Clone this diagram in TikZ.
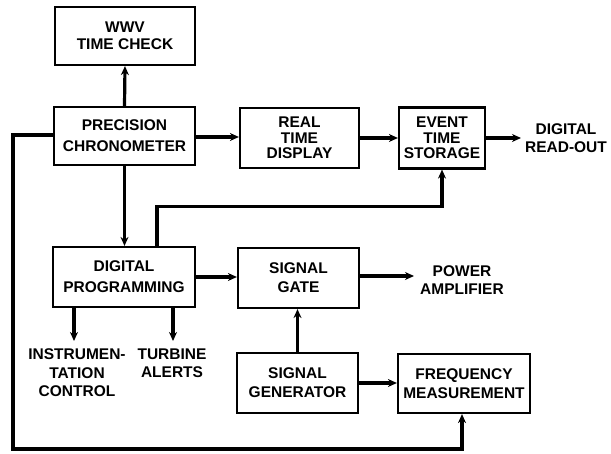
\documentclass[tikz,border=0pt]{standalone}
\usepackage{fontspec}
\setmainfont{Liberation Sans}
\usetikzlibrary{arrows.meta,calc}
\begin{document}
\begin{tikzpicture}[x=1pt,y=-1pt,
  box/.style={draw,line width=2.2pt,minimum width=#1,inner sep=0pt,align=center,
    font=\bfseries\fontsize{15.5}{15.5}\selectfont},
  lbl/.style={inner sep=0pt,align=center,font=\bfseries\fontsize{15.5}{18.5}\selectfont},
  conn/.style={line width=3.2pt,-{Stealth[length=9pt,width=8pt]}},
  wire/.style={line width=3.2pt}]
\useasboundingbox (0,0) rectangle (611,454);
\node[box=140pt,minimum height=58pt,font=\bfseries\fontsize{15.5}{17}\selectfont] (wwv) at (125,36) {WWV\\TIME CHECK};
\node[box=141pt,minimum height=58pt,font=\bfseries\fontsize{15.5}{21}\selectfont] (chrono) at (124.5,136) {PRECISION\\CHRONOMETER};
\node[box=119pt,minimum height=60pt] (rtd) at (299.5,138) {REAL\\TIME\\DISPLAY};
\node[box=86pt,minimum height=61pt] (ets) at (442,138) {EVENT\\TIME\\STORAGE};
\node[box=142pt,minimum height=60pt,font=\bfseries\fontsize{15.5}{21}\selectfont] (dp) at (124,277) {DIGITAL\\PROGRAMMING};
\node[box=121pt,minimum height=60pt,font=\bfseries\fontsize{15.5}{19}\selectfont] (sg) at (298.5,278) {SIGNAL\\GATE};
\node[box=121pt,minimum height=60pt,font=\bfseries\fontsize{15.5}{19}\selectfont] (gen) at (297.5,383) {SIGNAL\\GENERATOR};
\node[box=132pt,minimum height=59pt,font=\bfseries\fontsize{15.5}{19}\selectfont] (fm) at (464,383.5) {FREQUENCY\\MEASUREMENT};
\node[lbl] (readout) at (566,138) {DIGITAL\\READ-OUT};
\node[lbl] (power) at (462,280) {POWER\\AMPLIFIER};
\node[lbl] (instr) at (77,373) {INSTRUMEN-\\TATION\\CONTROL};
\node[lbl] (turb) at (172,363) {TURBINE\\ALERTS};
\coordinate (ro) at (521,138);
\coordinate (pa) at (414,280);
\coordinate (ic) at (74,341);
\coordinate (ta) at (173,341);
\coordinate (ja) at (13,135);
\coordinate (jb) at (13,449);
\coordinate (jc) at (462,449);
\draw[conn] (chrono.north) -- (wwv.south);
\draw[conn] ([yshift=-1pt]chrono.east) -- ([yshift=-1pt]chrono.east -| rtd.west);
\draw[conn] (rtd.east) -- (rtd.east -| ets.west);
\draw[conn] (ets.east) -- (ets.east -| ro);
\draw[conn] (chrono.south) -- (chrono.south |- dp.north);
\draw[conn] ([xshift=33pt]dp.north) -- ++(0,-39) -| (ets.south);
\draw[conn] (dp.east) -- (dp.east -| sg.west);
\draw[conn] ([yshift=2pt]sg.east) -- ([yshift=2pt]sg.east -| pa);
\draw[conn] (gen.north) -- (gen.north |- sg.south);
\draw[conn] (gen.east) -- (gen.east -| fm.west);
\draw[conn] (ic |- dp.south) -- (ic);
\draw[conn] (ta |- dp.south) -- (ta);
\draw[conn] (chrono.west |- ja) -- (ja) -- (jb) -- (jc) -- (jc |- fm.south);
\end{tikzpicture}
\end{document}
